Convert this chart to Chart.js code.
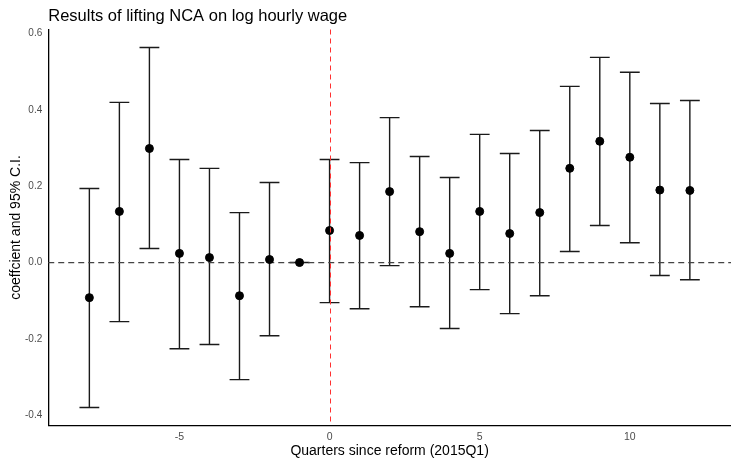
<!DOCTYPE html>
<html>
<head>
<meta charset="utf-8">
<script src="https://cdn.jsdelivr.net/npm/chart.js@4"></script>
<style>
  html, body { margin: 0; padding: 0; background: #fff; overflow: hidden; }
  #wrap { width: 736px; height: 458px; }
  canvas { display: block; }
</style>
</head>
<body>
<div id="wrap"><canvas id="myChart"></canvas></div>
<script>
// quarters relative to the reform
const quarters = [-8, -7, -6, -5, -4, -3, -2, -1, 0, 1, 2, 3, 4, 5, 6, 7, 8, 9, 10, 11, 12];
const coef = [-0.092, 0.134, 0.299, 0.024, 0.013, -0.087, 0.008, 0, 0.084, 0.071, 0.186,
  0.081, 0.024, 0.134, 0.076, 0.131, 0.247, 0.318, 0.276, 0.19, 0.189];
const ciLow = [-0.38, -0.155, 0.037, -0.226, -0.215, -0.307, -0.192, 0, -0.105, -0.121, -0.008,
  -0.116, -0.173, -0.071, -0.134, -0.087, 0.029, 0.097, 0.052, -0.034, -0.045];
const ciHigh = [0.194, 0.42, 0.564, 0.27, 0.247, 0.131, 0.21, 0, 0.27, 0.262, 0.38,
  0.278, 0.223, 0.336, 0.286, 0.346, 0.462, 0.538, 0.499, 0.417, 0.425];

const xTicks = [-5, 0, 5, 10];
const yTicks = [-0.4, -0.2, 0, 0.2, 0.4, 0.6];
const capHalf = 0.33;

// error bars + zero line, drawn through the scales
const errorBars = {
  id: "errorBars",
  beforeDatasetsDraw(chart) {
    const ctx = chart.ctx;
    const xs = chart.scales.x, ys = chart.scales.y;
    const area = chart.chartArea;
    ctx.save();
    ctx.strokeStyle = "#1a1a1a";
    ctx.lineWidth = 1.4;
    for (let i = 0; i < quarters.length; i++) {
      const x = xs.getPixelForValue(quarters[i]);
      const x0 = xs.getPixelForValue(quarters[i] - capHalf);
      const x1 = xs.getPixelForValue(quarters[i] + capHalf);
      const yl = ys.getPixelForValue(ciLow[i]);
      const yh = ys.getPixelForValue(ciHigh[i]);
      ctx.beginPath();
      ctx.moveTo(x, yl); ctx.lineTo(x, yh);
      ctx.moveTo(x0, yl); ctx.lineTo(x1, yl);
      ctx.moveTo(x0, yh); ctx.lineTo(x1, yh);
      ctx.stroke();
    }
    const y0 = ys.getPixelForValue(0);
    ctx.strokeStyle = "#444";
    ctx.lineWidth = 1.3;
    ctx.setLineDash([6, 4]);
    ctx.beginPath();
    ctx.moveTo(area.left, y0); ctx.lineTo(area.right, y0);
    ctx.stroke();
    ctx.restore();
  },
  // reform line on top
  afterDatasetsDraw(chart) {
    const ctx = chart.ctx;
    const area = chart.chartArea;
    const xr = Math.round(chart.scales.x.getPixelForValue(0)) + 0.5;
    ctx.save();
    ctx.strokeStyle = "#ff3030";
    ctx.lineWidth = 1;
    ctx.setLineDash([5, 4]);
    ctx.beginPath();
    ctx.moveTo(xr, area.top); ctx.lineTo(xr, area.bottom);
    ctx.stroke();
    ctx.restore();
  }
};

const ctx = document.getElementById("myChart").getContext("2d");
new Chart(ctx, {
  type: "scatter",
  data: {
    datasets: [{
      label: "coefficient",
      data: quarters.map((q, i) => ({ x: q, y: coef[i] })),
      backgroundColor: "#000",
      borderColor: "#000",
      pointRadius: 4,
      pointHoverRadius: 4,
    }],
  },
  options: {
    responsive: true,
    maintainAspectRatio: false,
    animation: false,
    layout: { padding: { left: 9, right: 0, top: 0, bottom: 0 } },
    plugins: {
      legend: { display: false },
      tooltip: { enabled: false },
      title: {
        display: true,
        text: "Results of lifting NCA on log hourly wage",
        align: "start",
        fullSize: false,
        color: "#000",
        font: { family: "Liberation Sans", size: 16.5, weight: "normal", lineHeight: 1 },
        padding: { top: 8, bottom: 5 },
      },
    },
    scales: {
      x: {
        type: "linear",
        min: -9.37,
        max: 13.37,
        afterBuildTicks(axis) { axis.ticks = xTicks.map((v) => ({ value: v })); },
        grid: { display: false, drawTicks: true, tickLength: 4, tickColor: "#333" },
        border: { display: true, color: "#000", width: 1.3 },
        ticks: { color: "#4d4d4d", font: { family: "Liberation Sans", size: 10.5 }, padding: 1 },
        title: {
          display: true,
          text: "Quarters since reform (2015Q1)",
          color: "#000",
          font: { family: "Liberation Sans", size: 14, lineHeight: 1 },
          padding: { top: 0, bottom: 0 },
        },
      },
      y: {
        min: -0.427,
        max: 0.611,
        afterBuildTicks(axis) { axis.ticks = yTicks.map((v) => ({ value: v })); },
        grid: { display: false, drawTicks: true, tickLength: 4, tickColor: "#333" },
        border: { display: true, color: "#000", width: 1.3 },
        ticks: {
          color: "#4d4d4d",
          font: { family: "Liberation Sans", size: 10 },
          padding: 2,
          callback: (v) => v.toFixed(1),
        },
        title: {
          display: true,
          text: "coeffcient and 95% C.I.",
          color: "#000",
          font: { family: "Liberation Sans", size: 14, lineHeight: 1 },
          padding: { top: 0, bottom: 0 },
        },
      },
    },
  },
  plugins: [errorBars],
});
</script>
</body>
</html>
